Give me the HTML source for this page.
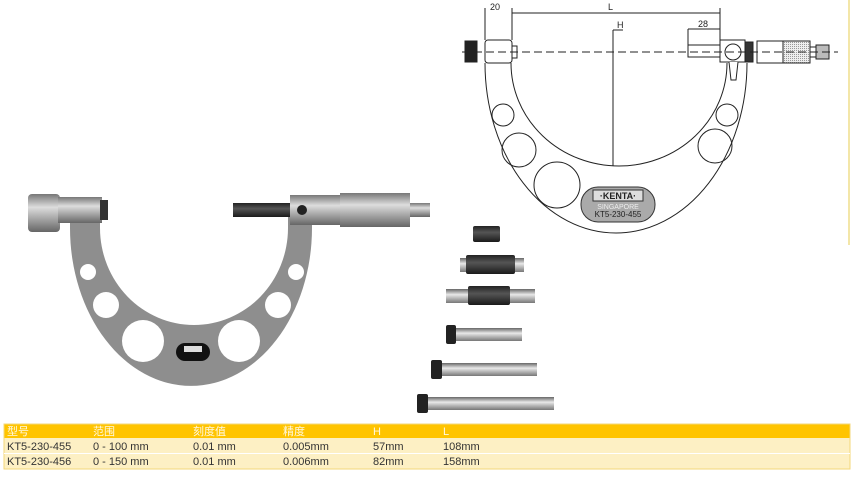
<!DOCTYPE html>
<html><head><meta charset="utf-8"><style>
body{margin:0;background:#fff;width:854px;height:479px;overflow:hidden;font-family:"Liberation Sans","Noto Sans CJK SC",sans-serif}
</style></head><body>
<svg width="854" height="479" viewBox="0 0 854 479" xmlns="http://www.w3.org/2000/svg" style="position:absolute;left:0;top:0">
<defs>
<linearGradient id="cyl" x1="0" y1="0" x2="0" y2="1"><stop offset="0" stop-color="#777"/><stop offset=".35" stop-color="#ddd"/><stop offset="1" stop-color="#666"/></linearGradient>
<linearGradient id="rod" x1="0" y1="0" x2="0" y2="1"><stop offset="0" stop-color="#666"/><stop offset=".4" stop-color="#e8e8e8"/><stop offset="1" stop-color="#777"/></linearGradient>
<linearGradient id="dk" x1="0" y1="0" x2="0" y2="1"><stop offset="0" stop-color="#222"/><stop offset=".4" stop-color="#555"/><stop offset="1" stop-color="#1a1a1a"/></linearGradient>
<pattern id="hatch" width="2" height="2" patternUnits="userSpaceOnUse"><rect width="2" height="2" fill="#eee"/><rect width="1" height="1" fill="#999"/></pattern>
</defs>
<!-- yellow right line -->
<rect x="848" y="0" width="2" height="245" fill="#f3e6a8"/>
<!-- photo frame -->
<path d="M70,215 L100,215 L100,228 A92,95 0 0 0 288,228 L288,215 L312,215 L312,228 A121,158 0 0 1 70,228 Z" fill="#8e8e8e"/>
<g fill="#fff"><circle cx="88" cy="272" r="8"/><circle cx="296" cy="272" r="8"/><circle cx="106" cy="305" r="13"/><circle cx="278" cy="305" r="13"/><circle cx="143" cy="341" r="21"/><circle cx="239" cy="341" r="21"/></g>
<rect x="176" y="343" width="34" height="18" rx="9" fill="#111"/>
<rect x="184" y="346" width="18" height="6" fill="#ddd"/>
<!-- left anvil -->
<rect x="28" y="194" width="32" height="38" rx="4" fill="url(#cyl)"/>
<rect x="58" y="197" width="44" height="26" fill="url(#cyl)"/>
<rect x="100" y="200" width="8" height="20" fill="#333"/>
<!-- right head -->
<rect x="233" y="203" width="58" height="14" fill="url(#dk)"/>
<rect x="290" y="195" width="50" height="30" fill="url(#cyl)"/>
<circle cx="302" cy="210" r="5" fill="#222"/>
<rect x="340" y="193" width="70" height="34" fill="url(#cyl)"/>
<rect x="410" y="203" width="20" height="14" fill="url(#cyl)"/>
<!-- gauge rods -->
<rect x="473" y="226" width="27" height="16" rx="2" fill="url(#dk)"/>
<rect x="460" y="258" width="64" height="14" fill="url(#rod)"/><rect x="466" y="255" width="49" height="19" rx="2" fill="url(#dk)"/>
<rect x="446" y="289" width="89" height="14" fill="url(#rod)"/><rect x="468" y="286" width="42" height="19" rx="2" fill="url(#dk)"/>
<rect x="454" y="328" width="68" height="13" fill="url(#rod)"/><rect x="446" y="325" width="10" height="19" rx="2" fill="#222"/>
<rect x="440" y="363" width="97" height="13" fill="url(#rod)"/><rect x="431" y="360" width="11" height="19" rx="2" fill="#222"/>
<rect x="426" y="397" width="128" height="13" fill="url(#rod)"/><rect x="417" y="394" width="11" height="19" rx="2" fill="#222"/>
<!-- drawing -->
<g stroke="#222" stroke-width="1" fill="none">
<path d="M485,63 A131,170 0 0 0 747,63"/>
<path d="M511,63 A108,103 0 0 0 727,63" fill="#fff"/>
<circle cx="503" cy="115" r="11"/><circle cx="519" cy="150" r="17"/><circle cx="557" cy="185" r="23"/>
<circle cx="727" cy="115" r="11"/><circle cx="715" cy="146" r="17"/>
<line x1="462" y1="52" x2="838" y2="52" stroke-dasharray="8,4"/>
<line x1="485" y1="8" x2="485" y2="40"/><line x1="512" y1="8" x2="512" y2="40"/>
<line x1="512" y1="13" x2="720" y2="13"/><line x1="720" y1="8" x2="720" y2="40"/>
<line x1="688" y1="29" x2="720" y2="29"/><line x1="688" y1="29" x2="688" y2="45"/>
<line x1="613" y1="30" x2="623" y2="30"/><line x1="613" y1="30" x2="613" y2="166"/>
</g>
<g stroke="#222" stroke-width="1">
<rect x="465" y="41" width="12" height="21" fill="#222"/>
<rect x="485" y="40" width="27" height="23" rx="3" fill="#fff"/>
<rect x="512" y="46" width="5" height="12" fill="#fff"/>
<rect x="688" y="45" width="32" height="12" fill="#fff"/>
<rect x="720" y="40" width="25" height="22" fill="#fff"/>
<circle cx="733" cy="52" r="8" fill="#fff"/>
<path d="M729,62 L731,80 L736,80 L738,62" fill="#fff"/>
<rect x="745" y="42" width="8" height="20" fill="#333"/>
<rect x="757" y="41" width="26" height="22" fill="#fff"/>
<rect x="783" y="41" width="27" height="22" fill="url(#hatch)"/>
<rect x="810" y="47" width="6" height="10" fill="#fff"/>
<rect x="816" y="45" width="13" height="14" fill="#bbb"/>
</g>
<line x1="462" y1="52" x2="838" y2="52" stroke="#222" stroke-dasharray="8,4"/>
<rect x="581" y="187" width="74" height="35" rx="17" fill="#aaa" stroke="#333"/>
<rect x="593" y="190" width="50" height="11" fill="#ddd" stroke="#333"/>
<g font-family="Liberation Sans,sans-serif" fill="#222">
<text x="618" y="199" font-size="9" font-weight="bold" text-anchor="middle">·KENTA·</text>
<text x="618" y="209" font-size="7" text-anchor="middle" fill="#eee">SINGAPORE</text>
<text x="618" y="217" font-size="8" text-anchor="middle">KT5-230-455</text>
<text x="490" y="10" font-size="9">20</text>
<text x="608" y="10" font-size="9">L</text>
<text x="617" y="28" font-size="9">H</text>
<text x="698" y="27" font-size="9">28</text>
</g>
<!-- table -->
<rect x="4" y="424" width="846" height="14" fill="#ffc400"/>
<rect x="4" y="438" width="846" height="15" fill="#fdf0c4"/>
<rect x="4" y="454" width="846" height="15" fill="#fdf0c4"/>
<rect x="4" y="424" width="846" height="45" fill="none" stroke="#f3d77a"/>
<line x1="4" y1="453.5" x2="850" y2="453.5" stroke="#fff"/>
<g font-size="11" fill="#333" font-family="Liberation Sans,Noto Sans CJK SC,sans-serif">
<g fill="#fff8e0"><text x="7" y="435">型号</text><text x="93" y="435">范围</text><text x="193" y="435">刻度值</text><text x="283" y="435">精度</text><text x="373" y="435">H</text><text x="443" y="435">L</text></g>
<text x="7" y="450">KT5-230-455</text><text x="93" y="450">0 - 100 mm</text><text x="193" y="450">0.01 mm</text><text x="283" y="450">0.005mm</text><text x="373" y="450">57mm</text><text x="443" y="450">108mm</text>
<text x="7" y="465">KT5-230-456</text><text x="93" y="465">0 - 150 mm</text><text x="193" y="465">0.01 mm</text><text x="283" y="465">0.006mm</text><text x="373" y="465">82mm</text><text x="443" y="465">158mm</text>
</g>
</svg>
</body></html>
